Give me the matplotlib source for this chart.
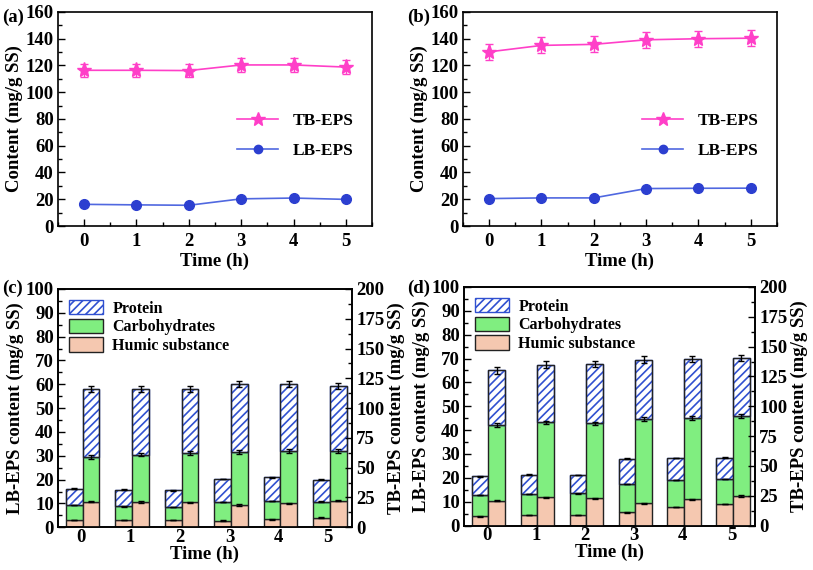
import matplotlib
matplotlib.use("Agg")
import matplotlib.pyplot as plt
import numpy as np
from matplotlib.ticker import MultipleLocator
from matplotlib.patches import Patch
from matplotlib.lines import Line2D

plt.rcParams['font.family'] = ['Liberation Serif', 'DejaVu Serif']
plt.rcParams['font.weight'] = 'bold'
plt.rcParams['axes.labelweight'] = 'bold'
plt.rcParams['hatch.linewidth'] = 1.2

time = [0, 1, 2, 3, 4, 5]

# Panel (a)
a_tb = [116.4, 116.4, 116.2, 120.4, 120.4, 118.8]
a_tb_err = [5, 5, 5, 5, 5, 5]
a_lb = [16.2, 15.8, 15.5, 20.3, 20.9, 19.9]
a_lb_err = [0.5, 0.5, 0.5, 0.5, 0.5, 0.5]

# Panel (b)
b_tb = [130.2, 135.0, 135.8, 139.2, 140.0, 140.4]
b_tb_err = [6, 6, 6, 6, 6, 6]
b_lb = [20.5, 21.0, 21.0, 28.0, 28.2, 28.3]
b_lb_err = [0.5, 0.5, 0.5, 0.5, 0.5, 0.5]

# Panel (c) LB-EPS components (mg/g SS)
c_lb_humic = [3.0, 3.0, 3.0, 2.8, 3.3, 4.0]
c_lb_carb = [6.3, 5.8, 5.5, 7.7, 7.7, 6.8]
c_lb_prot = [6.9, 7.0, 7.0, 9.8, 9.9, 9.1]
# Panel (c) TB-EPS components (mg/g SS)
c_tb_humic = [21.4, 21.2, 21.0, 18.6, 20.0, 22.4]
c_tb_carb = [37.6, 39.8, 41.4, 44.4, 44.0, 41.6]
c_tb_prot = [57.2, 55.2, 53.6, 57.4, 56.4, 54.8]

# Panel (d) LB-EPS components
d_lb_humic = [3.8, 4.5, 4.5, 5.5, 7.7, 9.0]
d_lb_carb = [9.0, 8.7, 9.0, 12.0, 11.3, 10.5]
d_lb_prot = [7.9, 8.1, 7.7, 10.5, 9.3, 8.9]
# Panel (d) TB-EPS components
d_tb_humic = [20.8, 23.6, 22.8, 18.6, 22.0, 24.8]
d_tb_carb = [63.6, 62.8, 62.8, 71.0, 68.4, 67.0]
d_tb_prot = [45.6, 48.6, 50.0, 49.6, 49.4, 48.4]

tb_err = [0.6, 1.6, 2.6]
lb_err = [0.1, 0.1, 0.15]

PINK = '#FF3FC8'
BLUE = '#2C3FD0'
BLUE_L = '#5068E0'
GREEN = '#80EE80'
PEACH = '#F5C8B0'
HATCHC = '#3050D0'

fig = plt.figure(figsize=(8.13, 5.70), dpi=100)

TICK_FS = 13.5
LAB_FS = 13.5

def style_axis(ax):
    for s in ax.spines.values():
        s.set_linewidth(1.2)
    ax.tick_params(which='both', direction='in', labelsize=TICK_FS, width=1.0, pad=3)
    ax.tick_params(which='major', length=5)
    ax.tick_params(which='minor', length=3)
    for lab in ax.get_xticklabels() + ax.get_yticklabels():
        lab.set_fontweight('bold')

def line_panel(rect, tb, tb_err, lb, lb_err, label):
    ax = fig.add_axes(rect)
    ax.errorbar(time, tb, yerr=tb_err, color=PINK, marker='*', markersize=11,
                lw=1.2, capsize=3, elinewidth=1.0, label='TB-EPS')
    ax.errorbar(time, lb, yerr=lb_err, color=BLUE_L, marker='o', markersize=7,
                markerfacecolor=BLUE, markeredgecolor=BLUE, lw=1.2, capsize=2,
                elinewidth=1.0, label='LB-EPS')
    ax.set_xlim(-0.5, 5.5)
    ax.set_ylim(0, 160)
    ax.xaxis.set_major_locator(MultipleLocator(1))
    ax.xaxis.set_minor_locator(MultipleLocator(0.5))
    ax.yaxis.set_major_locator(MultipleLocator(20))
    ax.yaxis.set_minor_locator(MultipleLocator(10))
    ax.set_xlabel('Time (h)', fontsize=LAB_FS, labelpad=2)
    ax.set_ylabel('Content (mg/g SS)', fontsize=LAB_FS, labelpad=2)
    style_axis(ax)
    ax.tick_params(axis='x', pad=5)
    handles = [Line2D([], [], color=PINK, marker='*', markersize=10, lw=1.2),
               Line2D([], [], color=BLUE_L, marker='o', markersize=6,
                      markerfacecolor=BLUE, markeredgecolor=BLUE, lw=1.2)]
    ax.legend(handles, ['TB-EPS', 'LB-EPS'], loc='lower right',
              bbox_to_anchor=(0.99, 0.24), frameon=False,
              prop={'weight': 'bold', 'size': 12.5}, handlelength=2.4,
              labelspacing=0.8)
    return ax

def bar_panel(rect, lbh, lbc, lbp, tbh, tbc, tbp, label):
    ax = fig.add_axes(rect)
    ax2 = ax.twinx()
    x = np.array(time, dtype=float)
    w = 0.34
    xl = x - 0.14
    xr = x + 0.20
    kw = dict(width=w, edgecolor='#222222', linewidth=1.0)
    lbh = np.array(lbh); lbc = np.array(lbc); lbp = np.array(lbp)
    tbh = np.array(tbh); tbc = np.array(tbc); tbp = np.array(tbp)
    ax.bar(xl, lbh, color=PEACH, **kw)
    ax.bar(xl, lbc, bottom=lbh, color=GREEN, **kw)
    ax.bar(xl, lbp, bottom=lbh + lbc, color='white', hatch='////', **kw)
    ax2.bar(xr, tbh, color=PEACH, **kw)
    ax2.bar(xr, tbc, bottom=tbh, color=GREEN, **kw)
    ax2.bar(xr, tbp, bottom=tbh + tbc, color='white', hatch='////', **kw)
    for a in (ax, ax2):
        for p in a.patches:
            if p.get_hatch():
                p.set_edgecolor(HATCHC)
    ax.bar(xl, lbp, bottom=lbh + lbc, fill=False, width=w, edgecolor='#222222', linewidth=1.0)
    ax2.bar(xr, tbp, bottom=tbh + tbc, fill=False, width=w, edgecolor='#222222', linewidth=1.0)
    tops_l = [lbh, lbh + lbc, lbh + lbc + lbp]
    tops_r = [tbh, tbh + tbc, tbh + tbc + tbp]
    for t, e in zip(tops_l, lb_err):
        ax.errorbar(xl, t, yerr=e, fmt='none', ecolor='black', capsize=2.5, elinewidth=1.0)
    for t, e in zip(tops_r, tb_err):
        ax2.errorbar(xr, t, yerr=e, fmt='none', ecolor='black', capsize=2.5, elinewidth=1.0)
    ax.set_xlim(-0.47, 5.48)
    ax.set_ylim(0, 100)
    ax2.set_ylim(0, 200)
    ax.set_xticks(time)
    ax.yaxis.set_major_locator(MultipleLocator(10))
    ax.yaxis.set_minor_locator(MultipleLocator(5))
    ax2.yaxis.set_major_locator(MultipleLocator(25))
    ax2.yaxis.set_minor_locator(MultipleLocator(12.5))
    ax.set_xlabel('Time (h)', fontsize=LAB_FS, labelpad=0)
    ax.set_ylabel('LB-EPS content (mg/g SS)', fontsize=LAB_FS, labelpad=1)
    ax2.set_ylabel('TB-EPS content (mg/g SS)', fontsize=LAB_FS, labelpad=2)
    style_axis(ax)
    style_axis(ax2)
    ax.tick_params(axis='x', which='both', length=0, pad=1)
    handles = [Patch(facecolor='white', edgecolor=HATCHC, hatch='////'),
               Patch(facecolor=GREEN, edgecolor='#222222'),
               Patch(facecolor=PEACH, edgecolor='#222222')]
    ax.legend(handles, ['Protein', 'Carbohydrates', 'Humic substance'],
              loc='upper left', bbox_to_anchor=(0.0, 1.0), frameon=False,
              prop={'weight': 'bold', 'size': 11.5}, handlelength=2.1,
              handleheight=1.0, labelspacing=0.12, handletextpad=0.6,
              borderaxespad=0.3)
    return ax

line_panel([0.0713, 0.6035, 0.3863, 0.3755], a_tb, a_tb_err, a_lb, a_lb_err, '(a)')
line_panel([0.5695, 0.6035, 0.3862, 0.3755], b_tb, b_tb_err, b_lb, b_lb_err, '(b)')
bar_panel([0.0713, 0.075, 0.3617, 0.418], c_lb_humic, c_lb_carb, c_lb_prot,
          c_tb_humic, c_tb_carb, c_tb_prot, '(c)')
bar_panel([0.5707, 0.078, 0.3580, 0.4185], d_lb_humic, d_lb_carb, d_lb_prot,
          d_tb_humic, d_tb_carb, d_tb_prot, '(d)')

for txt, x, y in [('(a)', 0.003, 0.985), ('(b)', 0.501, 0.985),
                  ('(c)', 0.003, 0.51), ('(d)', 0.501, 0.51)]:
    fig.text(x, y, txt, fontsize=13.5, fontweight='bold', va='top', ha='left')

fig.savefig('out.png', dpi=100)
